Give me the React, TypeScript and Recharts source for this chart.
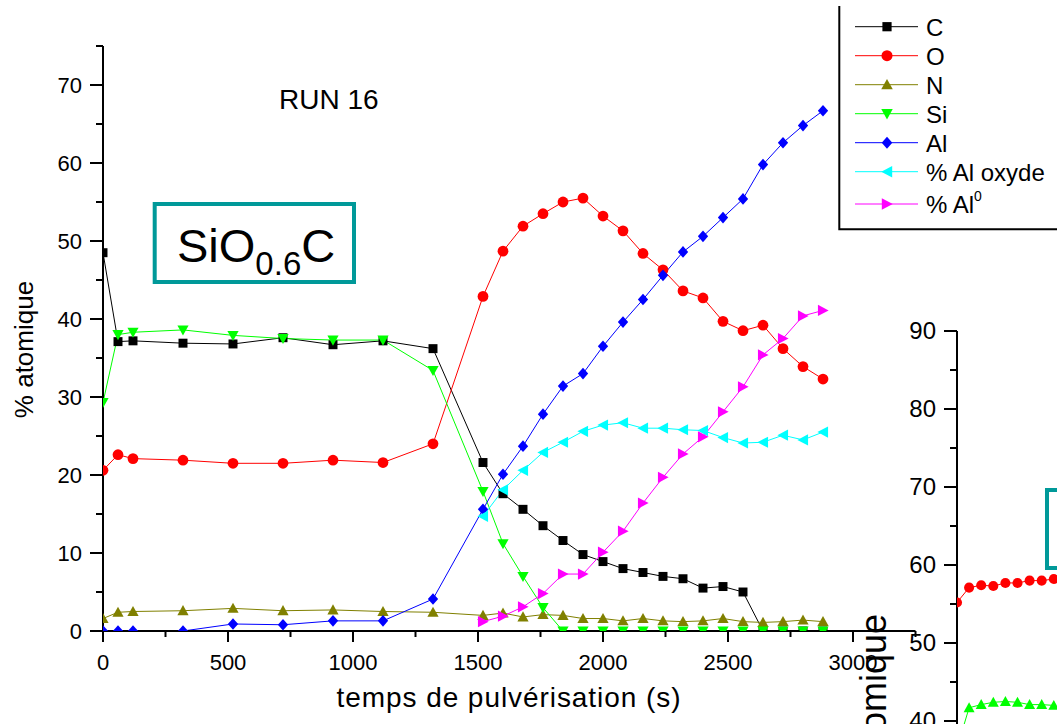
import React from 'react';
import { LineChart, Line, XAxis, YAxis } from 'recharts';

const FONT = '"Liberation Sans", Arial, Helvetica, sans-serif';
const TEAL = '#009999';

// temps de pulvérisation (s)
const TIME = [0, 60, 120, 320, 520, 720, 920, 1120, 1320, 1520, 1600, 1680, 1760, 1840, 1920, 2000, 2080, 2160, 2240, 2320, 2400, 2480, 2560, 2640, 2720, 2800, 2880];

// % atomique, one value per time step
const C = [48.5, 37.1, 37.2, 36.9, 36.8, 37.6, 36.7, 37.2, 36.2, 21.6, 17.6, 15.6, 13.5, 11.6, 9.8, 8.9, 8.0, 7.5, 7.0, 6.7, 5.5, 5.7, 5.0, 0, 0, 0, 0];
const O = [20.6, 22.6, 22.1, 21.9, 21.5, 21.5, 21.9, 21.6, 24.0, 42.9, 48.7, 51.9, 53.5, 55.0, 55.5, 53.2, 51.3, 48.4, 46.3, 43.6, 42.7, 39.7, 38.5, 39.2, 36.2, 33.9, 32.3];
const N = [1.6, 2.4, 2.5, 2.6, 2.9, 2.6, 2.7, 2.5, 2.4, 2.0, 2.3, 1.8, 2.1, 2.0, 1.6, 1.6, 1.3, 1.6, 1.3, 1.2, 1.3, 1.6, 1.2, 1.1, 1.2, 1.4, 1.2];
const SI = [29.3, 38.0, 38.3, 38.6, 37.9, 37.5, 37.3, 37.3, 33.4, 17.9, 11.2, 7.0, 3.0, 0, 0, 0, 0, 0, 0, 0, 0, 0, 0, 0, 0, 0, 0];
const AL = [0, 0, 0, 0, 0.9, 0.8, 1.3, 1.3, 4.1, 15.6, 20.1, 23.7, 27.8, 31.4, 33.0, 36.5, 39.6, 42.5, 45.6, 48.6, 50.6, 53.0, 55.4, 59.8, 62.6, 64.8, 66.7];
// Al split only measured from 1520 s on
const AL_OXYDE = [14.7, 18.1, 20.6, 22.9, 24.2, 25.6, 26.4, 26.7, 26.0, 26.0, 25.8, 25.7, 24.8, 24.1, 24.2, 25.1, 24.5, 25.5];
const AL_0 = [1.2, 1.9, 3.1, 4.8, 7.3, 7.3, 10.1, 12.8, 16.4, 19.7, 22.7, 24.9, 28.1, 31.3, 35.4, 37.5, 40.4, 41.1];

// second profile (right panel)
const TIME_B = [0, 60, 120, 180, 240, 300, 360, 420, 480];
const O_B = [55.2, 57.1, 57.4, 57.3, 57.7, 57.7, 58.0, 58.0, 58.2];
const SI_B = [36.5, 41.7, 42.1, 42.4, 42.5, 42.4, 42.1, 42.1, 42.0];

const X_TICKS = [0, 250, 500, 750, 1000, 1250, 1500, 1750, 2000, 2250, 2500, 2750, 3000, 3250];
const Y_TICKS = [0, 5, 10, 15, 20, 25, 30, 35, 40, 45, 50, 55, 60, 65, 70, 75];
const Y_TICKS_B = [0, 5, 10, 15, 20, 25, 30, 35, 40, 45, 50, 55, 60, 65, 70, 75, 80, 85, 90];

type Shape = 'square' | 'circle' | 'up' | 'down' | 'diamond' | 'left' | 'right';

const SERIES: { key: string; label: string; sup?: string; color: string; shape: Shape }[] = [
  { key: 'C', label: 'C', color: '#000000', shape: 'square' },
  { key: 'O', label: 'O', color: '#ff0000', shape: 'circle' },
  { key: 'N', label: 'N', color: '#808000', shape: 'up' },
  { key: 'Si', label: 'Si', color: '#00ff00', shape: 'down' },
  { key: 'Al', label: 'Al', color: '#0000ff', shape: 'diamond' },
  { key: 'AlOx', label: '% Al oxyde', color: '#00ffff', shape: 'left' },
  { key: 'Al0', label: '% Al', sup: '0', color: '#ff00ff', shape: 'right' },
];

const lag = TIME.length - AL_OXYDE.length;
const mainData = TIME.map((t, i) => ({
  t,
  C: C[i],
  O: O[i],
  N: N[i],
  Si: SI[i],
  Al: AL[i],
  AlOx: i >= lag ? AL_OXYDE[i - lag] : null,
  Al0: i >= lag ? AL_0[i - lag] : null,
}));

const dataB = TIME_B.map((t, i) => ({ t, o: O_B[i], si: SI_B[i] }));

function Marker({ shape, cx, cy, color, s = 1 }: { shape: Shape; cx: number; cy: number; color: string; s?: number }) {
  const pts = (p: number[][]) => p.map(([dx, dy]) => `${cx + dx * s},${cy + dy * s}`).join(' ');
  switch (shape) {
    case 'square':
      return <rect x={cx - 4 * s} y={cy - 4 * s} width={8 * s} height={8 * s} fill={color} />;
    case 'circle':
      return <circle cx={cx} cy={cy} r={4.8 * s} fill={color} />;
    case 'up':
      return <polygon points={pts([[0, -5], [5, 4], [-5, 4]])} fill={color} />;
    case 'down':
      return <polygon points={pts([[0, 5], [5, -4], [-5, -4]])} fill={color} />;
    case 'diamond':
      return <polygon points={pts([[0, -5.2], [4.6, 0], [0, 5.2], [-4.6, 0]])} fill={color} />;
    case 'left':
      return <polygon points={pts([[-5, 0], [4.5, -5], [4.5, 5]])} fill={color} />;
    default:
      return <polygon points={pts([[5, 0], [-4.5, -5], [-4.5, 5]])} fill={color} />;
  }
}

const dotFor = (shape: Shape, color: string, s = 1.12) => (p: any) =>
  p.cx == null || p.cy == null ? (
    <g key={p.key} />
  ) : (
    <g key={p.key}>
      <Marker shape={shape} cx={p.cx} cy={p.cy} color={color} s={s} />
    </g>
  );

// ticks draw their own marks: long on labelled values, short in between
const XTick = (p: any) => {
  const major = p.payload.value % 500 === 0;
  return (
    <g>
      <line x1={p.x} x2={p.x} y1={p.y} y2={p.y + (major ? 11 : 6)} stroke="#000" strokeWidth={2} />
      {major && (
        <text x={p.x} y={p.y + 39} textAnchor="middle" fontSize={22} fontFamily={FONT} fill="#000">
          {p.payload.value}
        </text>
      )}
    </g>
  );
};

const makeYTick = (fontSize: number, gap: number) => (p: any) => {
  const major = p.payload.value % 10 === 0;
  return (
    <g>
      <line x1={p.x - (major ? 13 : 7)} x2={p.x} y1={p.y} y2={p.y} stroke="#000" strokeWidth={2} />
      {major && (
        <text x={p.x - gap} y={p.y + 8} textAnchor="end" fontSize={fontSize} fontFamily={FONT} fill="#000">
          {p.payload.value}
        </text>
      )}
    </g>
  );
};

const AXIS = { stroke: '#000', strokeWidth: 2 };

export default function App() {
  return (
    <div
      style={{
        position: 'fixed',
        left: 0,
        top: 0,
        width: 1057,
        height: 724,
        overflow: 'hidden',
        background: '#fff',
        fontFamily: FONT,
      }}
    >
      <div style={{ position: 'absolute', left: 0, top: 0 }}>
        <LineChart width={1057} height={724} data={mainData} margin={{ top: 46, right: 141.5, bottom: 0, left: 0 }}>
          <XAxis
            type="number"
            dataKey="t"
            domain={[0, 3250]}
            ticks={X_TICKS}
            interval={0}
            allowDataOverflow
            height={93}
            axisLine={AXIS}
            tickLine={false}
            tickSize={0}
            tickMargin={0}
            tick={XTick}
          />
          <YAxis
            type="number"
            domain={[0, 75]}
            ticks={Y_TICKS}
            interval={0}
            allowDataOverflow
            width={103}
            axisLine={AXIS}
            tickLine={false}
            tickSize={0}
            tickMargin={0}
            tick={makeYTick(22, 21)}
          />
          {SERIES.map((s) => (
            <Line
              key={s.key}
              dataKey={s.key}
              type="linear"
              stroke={s.color}
              strokeWidth={1}
              dot={dotFor(s.shape, s.color)}
              activeDot={false}
              isAnimationActive={false}
            />
          ))}
        </LineChart>
      </div>

      <div style={{ position: 'absolute', left: 840, top: 0 }}>
        <LineChart width={800} height={1100} data={dataB} margin={{ top: 331, right: 78, bottom: 67, left: 0 }}>
          <XAxis type="number" dataKey="t" domain={[0, 3000]} allowDataOverflow hide />
          <YAxis
            type="number"
            domain={[0, 90]}
            ticks={Y_TICKS_B}
            interval={0}
            allowDataOverflow
            width={117}
            axisLine={AXIS}
            tickLine={false}
            tickSize={0}
            tickMargin={0}
            tick={makeYTick(24, 21)}
          />
          <Line dataKey="o" type="linear" stroke="#ff0000" strokeWidth={1} dot={dotFor('circle', '#ff0000', 1.05)} activeDot={false} isAnimationActive={false} />
          <Line dataKey="si" type="linear" stroke="#00ff00" strokeWidth={1} dot={dotFor('up', '#00ff00', 1.1)} activeDot={false} isAnimationActive={false} />
        </LineChart>
      </div>

      <svg
        width={1057}
        height={724}
        style={{ position: 'absolute', left: 0, top: 0, pointerEvents: 'none' }}
        fontFamily={FONT}
        fill="#000"
      >
        <text x={279} y={109} fontSize={28}>RUN 16</text>

        <rect x={154.7} y={204} width={199.3} height={78} fill="none" stroke={TEAL} strokeWidth={4} />
        <text x={177} y={262} fontSize={47}>
          SiO<tspan fontSize={33} dy={13}>0.6</tspan>
          <tspan dy={-13}>C</tspan>
        </text>

        <text x={33} y={349.5} fontSize={26} textAnchor="middle" transform="rotate(-90 33 349.5)">% atomique</text>
        <text x={508.5} y={707} fontSize={28} textAnchor="middle" textLength={344} lengthAdjust="spacing">
          temps de pulvérisation (s)
        </text>

        <text x={886} y={709} fontSize={36} textAnchor="middle" transform="rotate(-90 886 709)">% atomique</text>
        <rect x={1047} y={490} width={60} height={78} fill="none" stroke={TEAL} strokeWidth={4} />

        {/* legend frame, open at the top edge */}
        <rect x={840} y={6} width={260} height={223} fill="#fff" />
        <path d="M839.3 6 V229.3 H1100" fill="none" stroke="#000" strokeWidth={2} />
        {SERIES.map((s, i) => {
          const cy = i < 6 ? 26.7 + i * 29 : 204;
          return (
            <g key={s.key}>
              <line x1={855} x2={918} y1={cy} y2={cy} stroke={s.color} strokeWidth={1} />
              <Marker shape={s.shape} cx={887} cy={cy} color={s.color} s={1.15} />
              <text x={926} y={cy + 9} fontSize={24}>
                {s.label}
                {s.sup && (
                  <tspan fontSize={14} dy={-12}>
                    {s.sup}
                  </tspan>
                )}
              </text>
            </g>
          );
        })}
      </svg>
    </div>
  );
}
